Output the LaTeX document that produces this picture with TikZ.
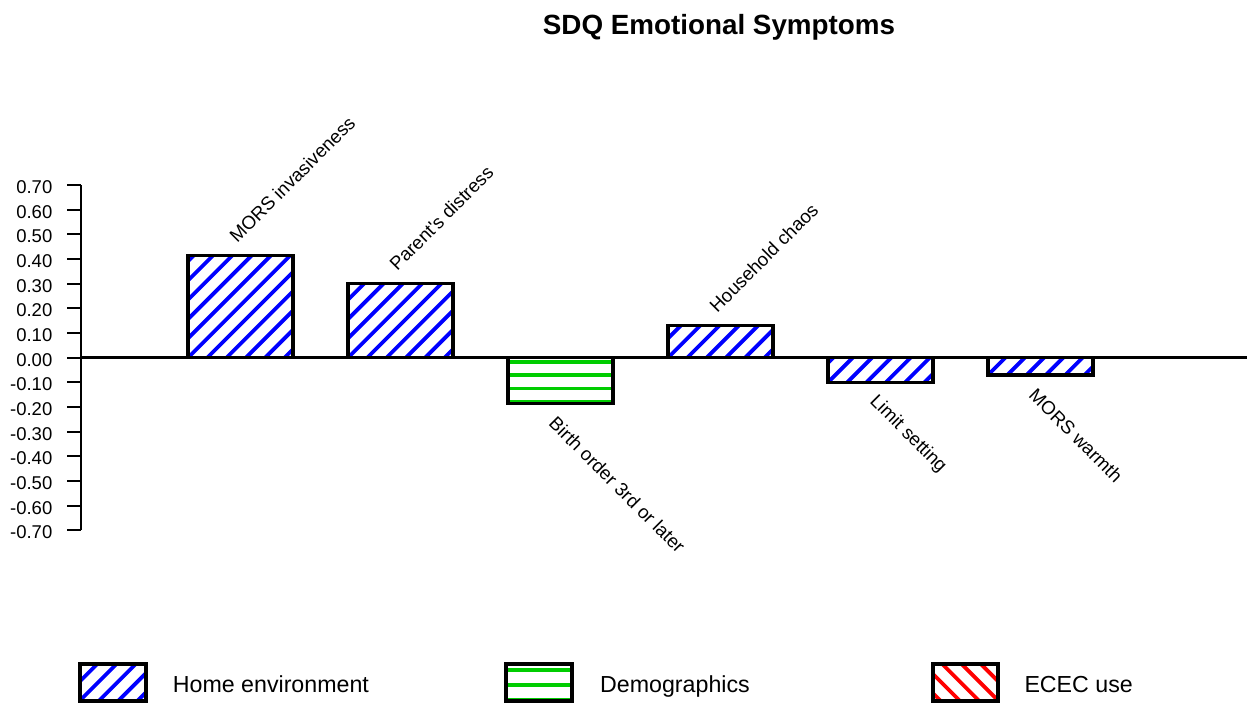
\documentclass[tikz,border=0pt]{standalone}
\usepackage{fontspec}
\setmainfont{Liberation Sans}[Ligatures=TeXOff]
\usetikzlibrary{calc}
\definecolor{hblue}{RGB}{0,0,255}
\definecolor{hgreen}{RGB}{0,205,0}
\definecolor{hred}{RGB}{255,0,0}
\tikzset{
  bar/.style={draw=black, line width=3.4pt, inner sep=0pt, outer sep=0pt, minimum width=105pt},
  legbox/.style={draw=black, line width=4pt, inner sep=0pt, outer sep=0pt, minimum width=65.6pt, minimum height=37pt},
  hatchNE/.style={path picture={\foreach \k in {-9,...,9}{
      \draw[#1, line width=3.8pt] ($(path picture bounding box.south west)+(\k*19.3pt,0pt)$) -- ++(130pt,130pt);}}},
  hatchNW/.style={path picture={\foreach \k in {-9,...,9}{
      \draw[#1, line width=3.8pt] ($(path picture bounding box.south east)+(-\k*19.3pt,0pt)$) -- ++(-130pt,130pt);}}},
  hatchH/.style n args={2}{path picture={\foreach \k in {0,...,8}{
      \draw[hgreen, line width=3.8pt] ($(path picture bounding box.north west)+(-5pt,{-#1-\k*#2})$) -- ++(200pt,0pt);}}},
  ticklab/.style={font=\fontsize{18.5}{22}\selectfont, anchor=east, inner sep=0pt},
  barlab/.style={font=\fontsize{18.7}{22}\selectfont, anchor=west, inner sep=0pt},
  legtext/.style={font=\fontsize{23.2}{27}\selectfont, anchor=base west, inner sep=0pt},
}
\begin{document}
\begin{tikzpicture}[x=1pt, y=-1pt]
\useasboundingbox (0,0) rectangle (1247,704);
\fill[white] (0,0) rectangle (1247,704);

% title
\node[font=\fontsize{27.8}{32}\selectfont\bfseries, anchor=base, inner sep=0pt] (title) at (719,34) {SDQ Emotional Symptoms};

% y axis with ticks and labels
\draw[line width=2pt] (81,185) -- (81,530.4);
\foreach \v/\t in {7/0.70,6/0.60,5/0.50,4/0.40,3/0.30,2/0.20,1/0.10,0/0.00,
                   -1/-0.10,-2/-0.20,-3/-0.30,-4/-0.40,-5/-0.50,-6/-0.60,-7/-0.70}{
  \draw[line width=2pt] (67,{357.7-\v*24.67}) -- (81,{357.7-\v*24.67});
  \node[ticklab] (tick\v) at (52.5,{359.7-\v*24.67}) {\t};
}

% bars
\node[bar, hatchNE=hblue, minimum height=102.1pt, anchor=south] (b1) at (240.5,357.7) {};
\node[bar, hatchNE=hblue, minimum height=74.4pt, anchor=south] (b2) at (400.5,357.7) {};
\node[bar, hatchH={4pt}{13.35pt}, minimum height=45.6pt, anchor=north] (b3) at (560.5,357.7) {};
\node[bar, hatchNE=hblue, minimum height=32.1pt, anchor=south] (b4) at (720.5,357.7) {};
\node[bar, hatchNE=hblue, minimum height=24.6pt, anchor=north] (b5) at (880.5,357.7) {};
\node[bar, hatchNE=hblue, minimum height=17.3pt, anchor=north] (b6) at (1040.5,357.7) {};

% zero line
\draw[line width=3.3pt] (81,357.7) -- (1247,357.7);

% bar labels
\node[barlab, rotate=45] (l1) at (232.5,239) {MORS invasiveness};
\node[barlab, rotate=45] (l2) at (392.5,267) {Parent's distress};
\node[barlab, rotate=-45] (l3) at (552.5,420) {Birth order 3rd or later};
\node[barlab, rotate=45] (l4) at (712.5,309) {Household chaos};
\node[barlab, rotate=-45] (l5) at (872.5,399) {Limit setting};
\node[barlab, rotate=-45] (l6) at (1032.5,392) {MORS warmth};

% legend
\node[legbox, hatchNE=hblue] (k1) at (112.8,682) {};
\node[legtext] (t1) at (172.7,692.7) {Home environment};
\node[legbox, hatchH={6.5pt}{14.7pt}] (k2) at (538.8,682) {};
\node[legtext] (t2) at (600,692.7) {Demographics};
\node[legbox, hatchNW=hred] (k3) at (965.3,682) {};
\node[legtext] (t3) at (1024.3,692.7) {ECEC use};
\end{tikzpicture}
\end{document}
